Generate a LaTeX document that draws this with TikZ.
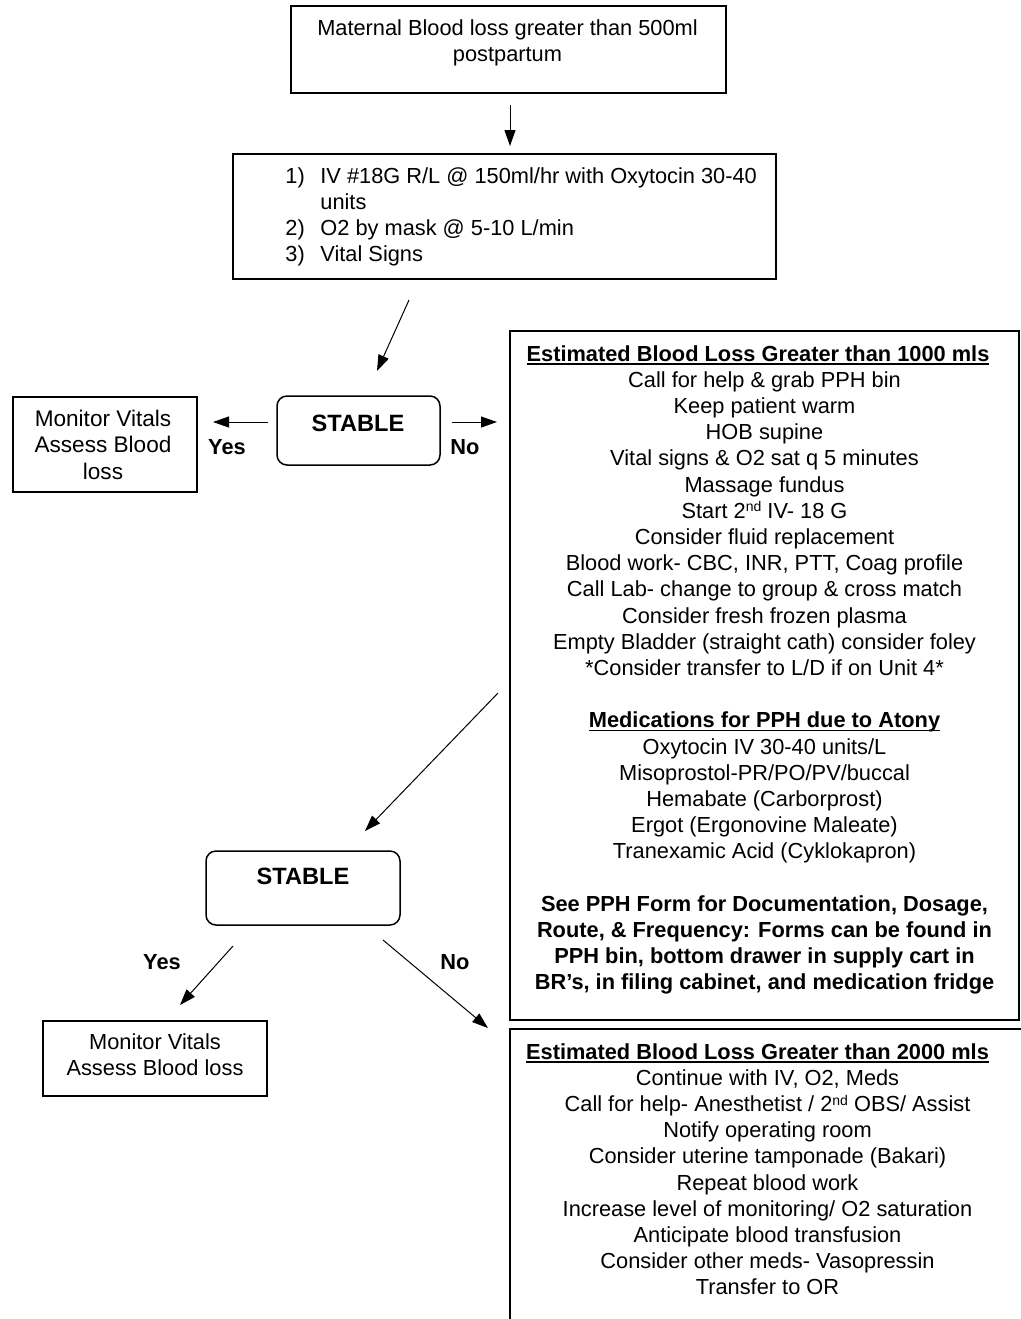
\documentclass[tikz,border=0pt]{standalone}
\usepackage{fontspec}
\setmainfont{Liberation Sans}
\usetikzlibrary{arrows.meta,fit}
\newcommand\ordsup[1]{\raisebox{0.55ex}{\fontsize{7}{7}\selectfont #1}}
\newcommand\ulhead[1]{\setbox0\hbox{#1}\rlap{\rule[-1.8pt]{\wd0}{0.6pt}}\box0}
\tikzset{
  basefont/.style={font=\fontsize{10.9}{13.1}\selectfont},
  boxthin/.style={draw, line width=0.75pt, inner sep=0pt},
  boxthick/.style={draw, line width=1pt, inner sep=0pt},
  roundbox/.style={draw, line width=0.75pt, rounded corners=5pt, inner sep=0pt},
  txt/.style={basefont, inner sep=0pt, anchor=base},
  lab/.style={font=\fontsize{10.9}{13.1}\selectfont\bfseries, inner sep=0pt, anchor=base},
  stab/.style={font=\fontsize{11.8}{14}\selectfont\bfseries, inner sep=0pt, anchor=base},
  arr/.style={-{Triangle[length=8pt,width=5.5pt]}, line width=0.5pt},
}
\begin{document}
\begin{tikzpicture}[x=0.5pt,y=-0.5pt]
\useasboundingbox (0,0) rectangle (1021,1319);
\clip (0,0) rectangle (1021,1319);
\fill[white] (0,0) rectangle (1021,1319);

% boxes
\node[boxthin, fit={(291,6) (726,93)}] (start) {};
\node[boxthin, fit={(233,154) (776,279)}] (first) {};
\node[roundbox, fit={(277,396) (440,465)}] (stable1) {};
\node[boxthin, fit={(13,397) (197,492)}] (mon1) {};
\node[boxthick, fit={(510,331) (1019,1020)}] (ebl1000) {};
\node[roundbox, fit={(206,851) (400,925)}] (stable2) {};
\node[boxthin, fit={(43,1021) (267,1096)}] (mon2) {};
\node[boxthick, fit={(510,1029) (1040,1345)}] (ebl2000) {};

% texts
\node[txt] (starttxt) at (507.5,35) {\begin{tabular}[t]{@{}c@{}}Maternal Blood loss greater than 500ml\\postpartum\end{tabular}};
\node[txt, anchor=base west] (firsttxt) at (285,183) {\begin{tabular}[t]{@{}p{17.5pt}@{}l@{}}1) & IV \#18G R/L @ 150ml/hr with Oxytocin 30-40\\ & units\\ 2) & O2 by mask @ 5-10 L/min\\ 3) & Vital Signs\end{tabular}};
\node[stab] (stable1txt) at (358,431) {STABLE};
\node[txt, font=\fontsize{11.3}{13.3}\selectfont] (mon1txt) at (103,426) {\begin{tabular}[t]{@{}c@{}}Monitor Vitals\\Assess Blood\\loss\end{tabular}};
\node[lab] (yes1) at (227,454) {Yes};
\node[lab] (no1) at (465,454) {No};

\node[txt] (ebl1000txt) at (764.5,361) {\begin{tabular}[t]{@{}c@{}}
\ulhead{\bfseries Estimated Blood Loss Greater than 1000 mls}\hspace*{6.5pt}\\
Call for help \& grab PPH bin\\
Keep patient warm\\
HOB supine\\
Vital signs \& O2 sat q 5 minutes\\
Massage fundus\\
Start 2\ordsup{nd} IV- 18 G\\
Consider fluid replacement\\
Blood work- CBC, INR, PTT, Coag profile\\
Call Lab- change to group \& cross match\\
Consider fresh frozen plasma\\
Empty Bladder (straight cath) consider foley\\
{}*Consider transfer to L/D if on Unit 4*\\
\\
\ulhead{\bfseries Medications for PPH due to Atony}\\
Oxytocin IV 30-40 units/L\\
Misoprostol-PR/PO/PV/buccal\\
Hemabate (Carborprost)\\
Ergot (Ergonovine Maleate)\\
Tranexamic Acid (Cyklokapron)\\
\\
\bfseries See PPH Form for Documentation, Dosage,\\
\bfseries Route, \& Frequency: Forms can be found in\\
\bfseries PPH bin, bottom drawer in supply cart in\\
\bfseries BR’s, in filing cabinet, and medication fridge
\end{tabular}};

\node[stab] (stable2txt) at (303,884) {STABLE};
\node[lab] (yes2) at (162,969) {Yes};
\node[lab] (no2) at (455,969) {No};
\node[txt] (mon2txt) at (155,1049) {\begin{tabular}[t]{@{}c@{}}Monitor Vitals\\Assess Blood loss\end{tabular}};

\node[txt] (ebl2000txt) at (767.5,1059) {\begin{tabular}[t]{@{}c@{}}
\ulhead{\bfseries Estimated Blood Loss Greater than 2000 mls}\hspace*{10pt}\\
Continue with IV, O2, Meds\\
Call for help- Anesthetist / 2\ordsup{nd} OBS/ Assist\\
Notify operating room\\
Consider uterine tamponade (Bakari)\\
Repeat blood work\\
Increase level of monitoring/ O2 saturation\\
Anticipate blood transfusion\\
Consider other meds- Vasopressin\\
Transfer to OR
\end{tabular}};

% connector end points
\coordinate (a1s) at (510,105);  \coordinate (a1e) at (510,146);
\coordinate (a2s) at (409,300);  \coordinate (a2e) at (377,371);
\coordinate (a3s) at (268,422);  \coordinate (a3e) at (213,422);
\coordinate (a4s) at (452,422);  \coordinate (a4e) at (497,422);
\coordinate (a5s) at (498,693);  \coordinate (a5e) at (365,831);
\coordinate (a6s) at (233,946);  \coordinate (a6e) at (180,1005);
\coordinate (a7s) at (383,940);  \coordinate (a7e) at (488,1028);

\draw[arr] (a1s) -- (a1e);
\draw[arr] (a2s) -- (a2e);
\draw[arr] (a3s) -- (a3e);
\draw[arr] (a4s) -- (a4e);
\draw[arr] (a5s) -- (a5e);
\draw[arr] (a6s) -- (a6e);
\draw[arr] (a7s) -- (a7e);
\end{tikzpicture}
\end{document}
